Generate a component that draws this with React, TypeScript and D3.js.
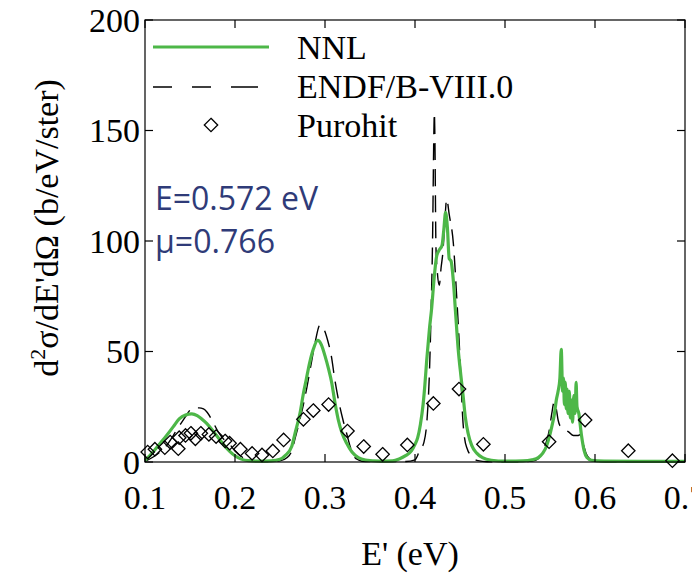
import React from "react";
import * as d3 from "d3";

// Axis ticks
const xTicks = [0.1, 0.2, 0.3, 0.4, 0.5, 0.6, 0.7];
const yTicks = [0, 50, 100, 150, 200];

// NNL calculation: [E' (eV), d2sigma/dE'dOmega (b/eV/ster)]
const nnl: [number, number][] = [
  [0.100, 0.8], [0.1056, 3], [0.111, 5.5], [0.1167, 8.4], [0.124, 12], [0.1315, 16],
  [0.138, 19.5], [0.145, 21.3], [0.152, 21.8], [0.158, 21], [0.163, 19.5], [0.1685, 17.5],
  [0.176, 13.8], [0.1833, 10], [0.189, 7], [0.1944, 4.7], [0.2, 2.8], [0.207, 1.3],
  [0.215, 0.6], [0.225, 0.4], [0.24, 0.5], [0.25, 1.2], [0.256, 3], [0.263, 7],
  [0.2667, 13], [0.2722, 22], [0.276, 31], [0.279, 37], [0.283, 45], [0.287, 51],
  [0.2919, 55], [0.296, 53], [0.300, 48], [0.304, 42], [0.3074, 36], [0.311, 27],
  [0.3148, 19], [0.319, 13], [0.3241, 8.5], [0.330, 4.5], [0.337, 2], [0.345, 0.9],
  [0.36, 0.4], [0.375, 0.5], [0.383, 1.5], [0.390, 3], [0.396, 5], [0.400, 8],
  [0.403, 11], [0.406, 17], [0.409, 26], [0.411, 35], [0.413, 46], [0.416, 60],
  [0.4186, 70], [0.421, 82], [0.424, 93], [0.427, 96], [0.430, 98], [0.432, 105],
  [0.434, 113], [0.436, 106], [0.438, 92], [0.440, 91], [0.4426, 82], [0.445, 68],
  [0.448, 51], [0.451, 39], [0.4537, 29], [0.456, 20], [0.459, 13], [0.463, 7.5],
  [0.4686, 4], [0.475, 2], [0.485, 0.8], [0.5, 0.4], [0.52, 0.5], [0.53, 1],
  [0.537, 2], [0.542, 4], [0.546, 7], [0.549, 11], [0.552, 16], [0.555, 22],
  [0.557, 28], [0.559, 32], [0.561, 38], [0.5625, 51], [0.564, 32], [0.565, 38],
  [0.566, 26], [0.567, 36], [0.568, 24], [0.569, 33], [0.570, 22], [0.5715, 32],
  [0.5725, 20], [0.574, 28], [0.575, 18], [0.5765, 30], [0.578, 22], [0.579, 36],
  [0.580, 25], [0.582, 22], [0.585, 12], [0.588, 5], [0.591, 2], [0.596, 0.8],
  [0.61, 0.4], [0.65, 0.3], [0.7, 0.3],
];

// ENDF/B-VIII.0 evaluation
const endf: [number, number][] = [
  [0.100, 0.3], [0.11, 2.5], [0.118, 5], [0.124, 7.5], [0.13, 11], [0.135, 14.5],
  [0.14, 17.5], [0.145, 20.5], [0.15, 23.5], [0.155, 24.5], [0.16, 24.5], [0.165, 24],
  [0.169, 22.5], [0.175, 18.5], [0.1815, 13.5], [0.187, 10.5], [0.194, 8], [0.2, 5],
  [0.207, 2.5], [0.215, 1], [0.225, 0.3], [0.24, 0.2], [0.25, 0.5], [0.258, 2],
  [0.263, 5], [0.267, 11], [0.272, 19], [0.276, 26], [0.28, 34], [0.284, 43],
  [0.289, 54], [0.2944, 62], [0.299, 60], [0.303, 55], [0.307, 48], [0.311, 37],
  [0.315, 28], [0.32, 19], [0.324, 13], [0.328, 7], [0.3315, 3], [0.337, 1],
  [0.345, 0.2], [0.39, 0.2], [0.4, 1], [0.405, 5], [0.41, 9], [0.4135, 20],
  [0.416, 40], [0.418, 70], [0.4195, 100], [0.421, 150], [0.4215, 158], [0.422, 150],
  [0.4233, 97], [0.425, 85], [0.427, 80], [0.429, 88], [0.431, 95], [0.433, 108],
  [0.4352, 119], [0.438, 112], [0.4426, 99], [0.4463, 75], [0.449, 55], [0.451, 38],
  [0.453, 20], [0.455, 11], [0.458, 6], [0.463, 2.5], [0.47, 0.6], [0.48, 0.1],
  [0.52, 0.1], [0.53, 0.4], [0.537, 1.5], [0.541, 4], [0.545, 8], [0.549, 14],
  [0.552, 22], [0.5545, 27], [0.557, 24], [0.559, 19], [0.561, 16.5], [0.566, 15],
  [0.571, 13.5], [0.576, 12], [0.5815, 12], [0.584, 12.5], [0.587, 8], [0.59, 4],
  [0.594, 1.5], [0.6, 0.3], [0.62, 0.1], [0.7, 0.1],
];

// Purohit measurements
const purohit: [number, number][] = [
  [0.103, 4.5], [0.111, 5.8], [0.122, 6.5], [0.128, 9], [0.137, 6], [0.138, 11],
  [0.145, 12], [0.151, 13], [0.156, 10.5], [0.162, 13], [0.171, 12.5], [0.179, 11.5],
  [0.189, 9.5], [0.194, 8.5], [0.206, 5.8], [0.219, 3.9], [0.23, 3.2], [0.242, 5],
  [0.254, 10], [0.276, 19.3], [0.287, 23.3], [0.304, 26], [0.325, 14], [0.343, 7],
  [0.364, 3.5], [0.3915, 7.7], [0.4204, 26.5], [0.4489, 33], [0.476, 8], [0.549, 9.2],
  [0.589, 19], [0.637, 5.1], [0.686, 0.6],
];

const legendLabels = ["NNL", "ENDF/B-VIII.0", "Purohit"];
const annotationLines = ["E=0.572 eV", "\u03bc=0.766"];

const W = 692;
const H = 576;
const M = { left: 145, right: 685, top: 20, bottom: 462 };
const SERIF = "'Liberation Serif', 'Times New Roman', serif";
const SANS = "'Open Sans', 'Liberation Sans', sans-serif";
const GREEN = "#4db748";
const NAVY = "#2f3b78";

const diamond = (cx: number, cy: number, r: number) =>
  `M${cx},${cy - r}L${cx + r},${cy}L${cx},${cy + r}L${cx - r},${cy}Z`;

export default function App() {
  const x = d3.scaleLinear().domain([0.1, 0.7]).range([M.left, M.right]);
  const y = d3.scaleLinear().domain([0, 200]).range([M.bottom, M.top]);
  const line = d3
    .line<[number, number]>()
    .x((d) => x(d[0]))
    .y((d) => y(d[1]))
    .curve(d3.curveMonotoneX);

  const tickLen = 8;

  return (
    <svg
      width={W}
      height={H}
      style={{ position: "absolute", left: 0, top: 0, background: "#fff" }}
    >
      <rect x={0} y={0} width={W} height={H} fill="#fff" />

      {/* data */}
      <path d={line(endf) ?? ""} fill="none" stroke="#000" strokeWidth={1.4} strokeDasharray="17,9" />
      <path d={line(nnl) ?? ""} fill="none" stroke={GREEN} strokeWidth={3.2} strokeLinejoin="round" />
      {purohit.map((d, i) => (
        <path key={i} d={diamond(x(d[0]), y(d[1]), 6.7)} fill="none" stroke="#000" strokeWidth={1.3} />
      ))}

      {/* frame */}
      <rect
        x={M.left}
        y={M.top}
        width={M.right - M.left}
        height={M.bottom - M.top}
        fill="none"
        stroke="#000"
        strokeWidth={1.2}
      />
      {xTicks.map((t) => (
        <g key={"x" + t}>
          <line x1={x(t)} x2={x(t)} y1={M.bottom} y2={M.bottom - tickLen} stroke="#000" strokeWidth={1.2} />
          <line x1={x(t)} x2={x(t)} y1={M.top} y2={M.top + tickLen} stroke="#000" strokeWidth={1.2} />
          <text x={x(t)} y={509} textAnchor="middle" fontFamily={SERIF} fontSize={34} fill="#000">
            {d3.format(".1f")(t)}
          </text>
        </g>
      ))}
      {yTicks.map((t) => (
        <g key={"y" + t}>
          <line x1={M.left} x2={M.left + tickLen} y1={y(t)} y2={y(t)} stroke="#000" strokeWidth={1.2} />
          <line x1={M.right} x2={M.right - tickLen} y1={y(t)} y2={y(t)} stroke="#000" strokeWidth={1.2} />
          <text x={140} y={y(t)} dy="0.34em" textAnchor="end" fontFamily={SERIF} fontSize={34} fill="#000">
            {t}
          </text>
        </g>
      ))}

      {/* axis titles */}
      <text x={410} y={565} textAnchor="middle" fontFamily={SERIF} fontSize={34} fill="#000">
        E' (eV)
      </text>
      <text
        transform="translate(58,228) rotate(-90)"
        textAnchor="middle"
        fontFamily={SERIF}
        fontSize={34}
        fill="#000"
      >
        d<tspan dy={-13} fontSize={22}>2</tspan>
        <tspan dy={13}>σ/dE'dΩ (b/eV/ster)</tspan>
      </text>

      {/* legend */}
      <line x1={153} x2={269} y1={47} y2={47} stroke={GREEN} strokeWidth={3.2} />
      <line x1={153} x2={258} y1={87} y2={87} stroke="#000" strokeWidth={1.4} strokeDasharray="19,20,19,20,28" />
      <path d={diamond(211, 125, 6.7)} fill="none" stroke="#000" strokeWidth={1.3} />
      {legendLabels.map((s, i) => (
        <text key={s} x={297} y={59 + i * 39} fontFamily={SERIF} fontSize={34} fill="#000">
          {s}
        </text>
      ))}

      {/* incident energy and cosine */}
      <text x={155} y={210} fontFamily={SANS} fontSize={32} fill={NAVY} textLength={163} lengthAdjust="spacingAndGlyphs">
        {annotationLines[0]}
      </text>
      <text x={155} y={253} fontFamily={SANS} fontSize={32} fill={NAVY} textLength={120} lengthAdjust="spacingAndGlyphs">
        {annotationLines[1]}
      </text>
    </svg>
  );
}
